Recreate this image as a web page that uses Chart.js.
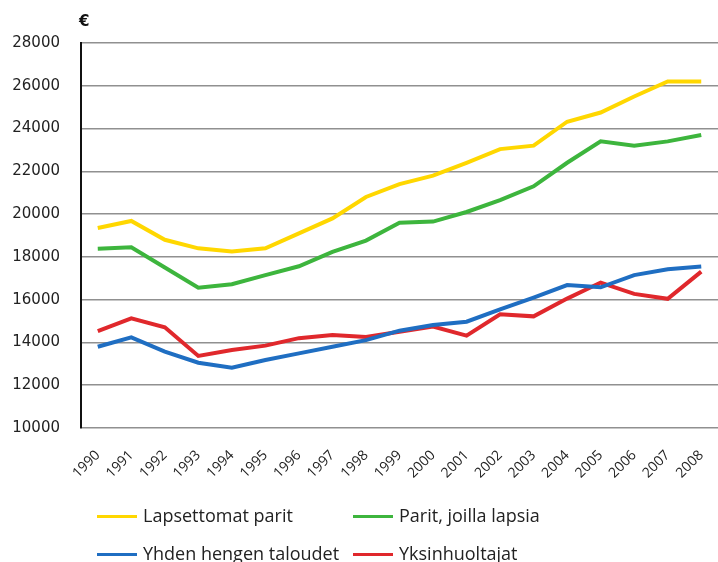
<!DOCTYPE html>
<html>
<head>
<meta charset="utf-8">
<script src="https://cdn.jsdelivr.net/npm/chart.js@4"></script>
<style>
    body { margin: 0; background: #fff; }
    #wrap { position: relative; width: 718px; height: 562px; overflow: hidden; }
    #euro { position: absolute; left: 79px; top: 12px; font: bold 15px "DejaVu Sans", sans-serif; color: #111; }
    .leg { position: absolute; font: 18px "Open Sans", sans-serif; color: #222; white-space: nowrap; line-height: 24px; }
    .leg span { display: inline-block; width: 40px; height: 3px; vertical-align: middle; margin-right: 6px; position: relative; top: -1px; }
</style>
</head>
<body>
<div id="wrap">
    <canvas id="incomeChart" width="718" height="562"></canvas>
    <div id="euro">€</div>
    <div id="legend"></div>
</div>
<script>
// data
const years = ['1990', '1991', '1992', '1993', '1994', '1995', '1996', '1997', '1998', '1999',
    '2000', '2001', '2002', '2003', '2004', '2005', '2006', '2007', '2008'];
const lapsettomat = [19350, 19680, 18800, 18400, 18250, 18400, 19100, 19800, 20800, 21400,
    21800, 22400, 23040, 23200, 24320, 24750, 25500, 26200, 26200];
const paritLapsia = [18380, 18450, 17500, 16560, 16720, 17150, 17560, 18230, 18760, 19600,
    19650, 20100, 20650, 21300, 22400, 23400, 23200, 23400, 23700];
const yhdenHengen = [13800, 14240, 13570, 13050, 12820, 13180, 13490, 13800, 14110, 14550,
    14820, 14970, 15550, 16100, 16680, 16580, 17150, 17420, 17550];
const yksinhuoltajat = [14530, 15130, 14710, 13370, 13650, 13850, 14200, 14350, 14250, 14500,
    14740, 14320, 15320, 15220, 16050, 16800, 16270, 16040, 17310];
const yTicks = [10000, 12000, 14000, 16000, 18000, 20000, 22000, 24000, 26000, 28000];

const seriesNames = ['Lapsettomat parit', 'Parit, joilla lapsia', 'Yhden hengen taloudet', 'Yksinhuoltajat'];
const seriesColors = ['#FFD700', '#3DB53D', '#1F6EC2', '#E0282C'];
const seriesData = [lapsettomat, paritLapsia, yhdenHengen, yksinhuoltajat];

function buildDatasets() {
    return seriesData.map((d, i) => ({
        label: seriesNames[i],
        data: d,
        borderColor: seriesColors[i],
        backgroundColor: seriesColors[i],
        borderWidth: 4,
        pointRadius: 0,
        tension: 0,
        fill: false
    }));
}

// html legend, laid out in two columns like the original
function buildLegend() {
    const el = document.getElementById('legend');
    const pos = [[97, 503], [353, 503], [97, 541], [353, 541]];
    seriesNames.forEach((name, i) => {
        const d = document.createElement('div');
        d.className = 'leg';
        d.style.left = pos[i][0] + 'px';
        d.style.top = pos[i][1] + 'px';
        d.innerHTML = '<span style="background:' + seriesColors[i] + '"></span>' + name;
        el.appendChild(d);
    });
}

function initChart() {
    const ctx = document.getElementById('incomeChart').getContext('2d');
    new Chart(ctx, {
        type: 'line',
        data: { labels: years, datasets: buildDatasets() },
        options: {
            responsive: false,
            animation: false,
            layout: { padding: { top: 43, right: 0, bottom: 70, left: 0 } },
            plugins: {
                legend: { display: false },
                tooltip: { enabled: false }
            },
            scales: {
                x: {
                    offset: true,
                    grid: { display: false, drawTicks: false },
                    border: { display: false },
                    ticks: {
                        autoSkip: false,
                        maxRotation: 45,
                        minRotation: 45,
                        padding: 19,
                        color: '#222',
                        font: { family: 'Open Sans', size: 14 }
                    },
                    afterFit: (scale) => {
                        scale.height = 64;
                        // rotated labels should not push the plot area in
                        scale.paddingLeft = 0;
                        scale.paddingRight = 0;
                    }
                },
                y: {
                    min: 10000,
                    max: 28000,
                    afterBuildTicks: (scale) => { scale.ticks = yTicks.map(v => ({ value: v })); },
                    grid: { color: '#909090', lineWidth: 1.5, drawTicks: false },
                    border: { display: true, color: '#111', width: 2 },
                    ticks: {
                        padding: 21,
                        color: '#222',
                        font: { family: 'DejaVu Sans', size: 15 },
                        callback: (v) => String(v)
                    },
                    afterFit: (scale) => { scale.width = 81; }
                }
            }
        }
    });
}

initChart();
buildLegend();
</script>
</body>
</html>
